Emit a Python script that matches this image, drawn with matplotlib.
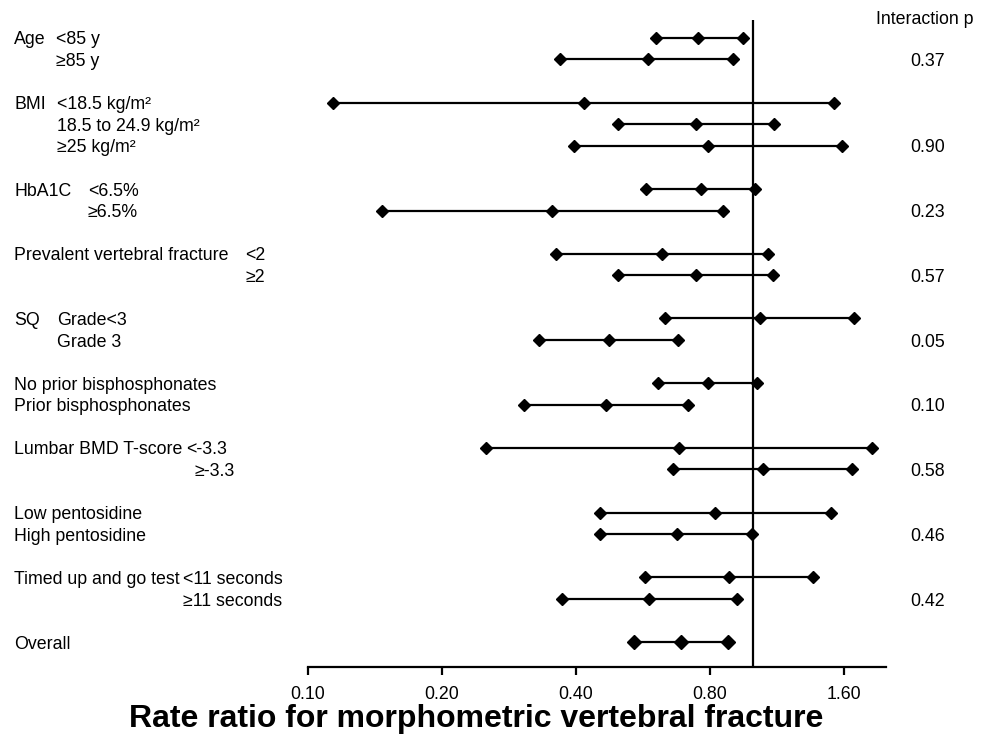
import matplotlib
matplotlib.use('Agg')
import matplotlib.pyplot as plt
from matplotlib.transforms import blended_transform_factory, offset_copy

plt.rcParams['font.family'] = ['Liberation Sans', 'DejaVu Sans']

# row index (0 = top) of each estimate
rows = [0, 1, 3, 4, 5, 7, 8, 10, 11, 13, 14, 16, 17, 19, 20, 22, 23, 25, 26]
lower = [0.605, 0.368, 0.114, 0.496, 0.395, 0.574, 0.147, 0.361, 0.498, 0.634,
         0.331, 0.610, 0.305, 0.251, 0.661, 0.454, 0.454, 0.571, 0.372]
est = [0.753, 0.579, 0.416, 0.744, 0.790, 0.764, 0.354, 0.625, 0.742, 1.035,
       0.475, 0.790, 0.466, 0.680, 1.050, 0.822, 0.673, 0.882, 0.584]
upper = [0.947, 0.902, 1.520, 1.110, 1.580, 1.010, 0.857, 1.080, 1.105, 1.685,
         0.679, 1.020, 0.712, 1.850, 1.668, 1.494, 0.995, 1.363, 0.918]

overall_row = 28
overall = [0.541, 0.688, 0.879]

# group labels (left column) and sub-labels
group_labels = [(0, 'Age'), (3, 'BMI'), (7, 'HbA1C'), (10, 'Prevalent vertebral fracture'),
                (13, 'SQ'), (16, 'No prior bisphosphonates'), (17, 'Prior bisphosphonates'),
                (19, 'Lumbar BMD T-score'), (22, 'Low pentosidine'), (23, 'High pentosidine'),
                (25, 'Timed up and go test'), (28, 'Overall')]
sub_labels = [(0, '<85 y', 56), (1, '≥85 y', 56),
              (3, '<18.5 kg/m²', 57), (4, '18.5 to 24.9 kg/m²', 57), (5, '≥25 kg/m²', 57),
              (7, '<6.5%', 88), (8, '≥6.5%', 88),
              (10, '<2', 245), (11, '≥2', 245),
              (13, 'Grade<3', 57), (14, 'Grade 3', 57),
              (19, '<-3.3', 186), (20, '≥-3.3', 194),
              (25, '<11 seconds', 183), (26, '≥11 seconds', 183)]
p_rows = [1, 5, 8, 11, 14, 17, 20, 23, 26]
p_values = ['0.37', '0.90', '0.23', '0.57', '0.05', '0.10', '0.58', '0.46', '0.42']

xticks = [0.10, 0.20, 0.40, 0.80, 1.60]

W, H = 988, 756
fig = plt.figure(figsize=(W / 100, H / 100), dpi=100)
ax = fig.add_axes([307.7 / W, 1 - 666.7 / H, 578 / W, (666.7 - 20) / H])

for r, lo, e, hi in zip(rows, lower, est, upper):
    ax.plot([lo, e, hi], [r, r, r], color='black', lw=1.6, marker='D', markersize=6,
            solid_capstyle='butt')
ax.plot(overall, [overall_row] * 3, color='black', lw=1.6, marker='D', markersize=7.5)

ax.axvline(1.0, color='black', lw=1.6)

ax.set_xscale('log')
ax.set_xlim(0.1, 1.982)
ax.set_ylim(29.14, -0.83)
ax.set_xticks(xticks)
ax.set_xticklabels(['%.2f' % t for t in xticks])
ax.minorticks_off()
ax.tick_params(axis='x', length=6, width=1.6, pad=8, labelsize=12.8)
ax.set_yticks([])
for s in ['top', 'right', 'left']:
    ax.spines[s].set_visible(False)
ax.spines['bottom'].set_linewidth(1.6)

# labels sit a touch lower than the row centre in the reference
tr = offset_copy(blended_transform_factory(fig.transFigure, ax.transData),
                 fig=fig, x=0, y=-1.5, units='points')
fs = 12.8
for r, t in group_labels:
    ax.text(14 / W, r, t, transform=tr, ha='left', va='center', fontsize=fs, clip_on=False)
for r, t, x in sub_labels:
    ax.text(x / W, r, t, transform=tr, ha='left', va='center', fontsize=fs, clip_on=False)
for r, t in zip(p_rows, p_values):
    ax.text(928 / W, r, t, transform=tr, ha='center', va='center', fontsize=fs, clip_on=False)
fig.text(925 / W, 1 - 19 / H, 'Interaction p', ha='center', va='center', fontsize=fs)

fig.text(476 / W, 1 - 719 / H, 'Rate ratio for morphometric vertebral fracture',
         ha='center', va='center', fontsize=23, fontweight='bold')

fig.savefig('out.png', dpi=100)
